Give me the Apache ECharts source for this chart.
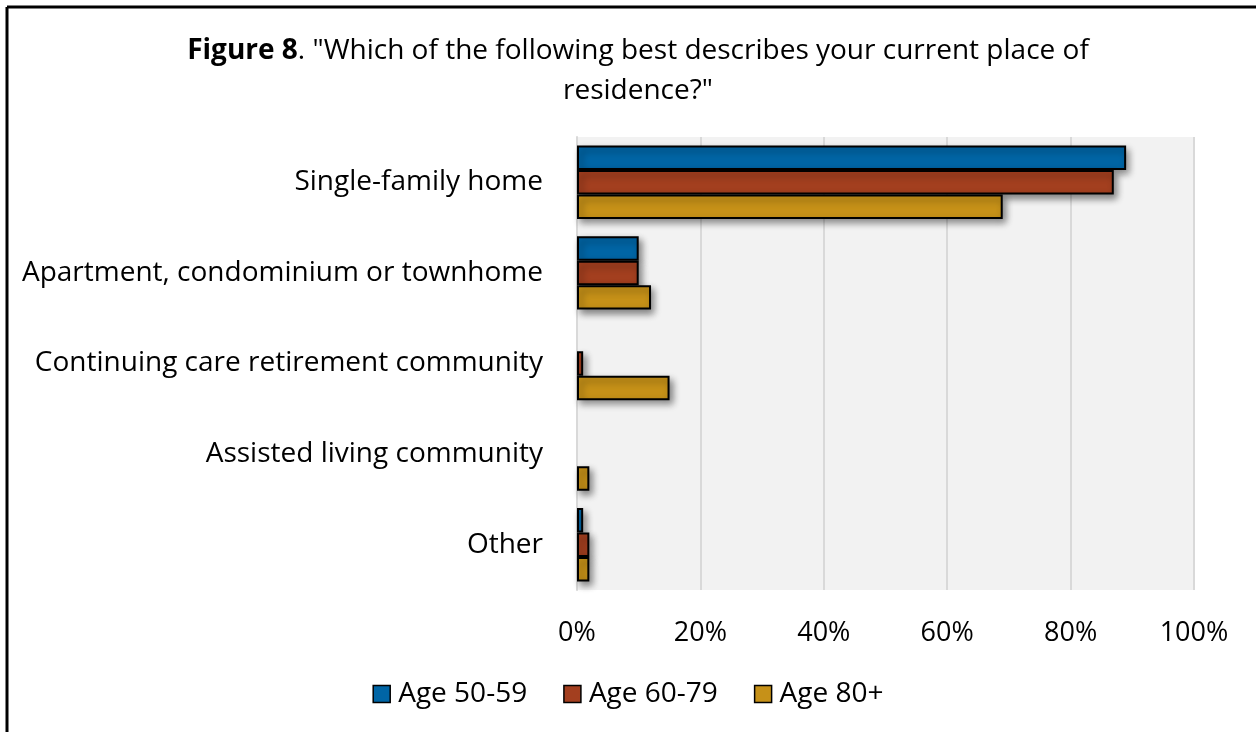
<!DOCTYPE html>
<html>
<head>
<meta charset="utf-8">
<script src="https://cdn.jsdelivr.net/npm/echarts@6/dist/echarts.min.js"></script>
<style>
  html, body { margin: 0; padding: 0; background: #ffffff; }
  #chart { width: 1256px; height: 732px; }
</style>
</head>
<body>
<div id="chart"></div>
<script>
// Place of residence by age group (percent of respondents)
const categories = [
  'Single-family home',
  'Apartment, condominium or townhome',
  'Continuing care retirement community',
  'Assisted living community',
  'Other'
];
const seriesNames = ['Age 50-59', 'Age 60-79', 'Age 80+'];
const age5059 = [89, 10, 0, 0, 1];
const age6079 = [87, 10, 1, 0, 2];
const age80plus = [69, 12, 15, 2, 2];
const xTicks = [0, 20, 40, 60, 80, 100];

const colors = ['#0065a5', '#a33f1f', '#c69118'];
const FONT = '"Open Sans", Lato, sans-serif';

// empty cells are left blank rather than drawn as zero-width bars
const toBars = arr => arr.map(v => (v === 0 ? '-' : v));

const chart = echarts.init(document.getElementById('chart'), null, { renderer: 'canvas' });

const seriesData = [age5059, age6079, age80plus];

chart.setOption({
  backgroundColor: '#ffffff',
  animation: false,
  textStyle: { fontFamily: FONT },
  title: {
    text: '{b|Figure 8}. "Which of the following best describes your current place of\nresidence?"',
    left: 633,
    textAlign: 'center',
    top: 26,
    textStyle: {
      fontFamily: FONT,
      fontSize: 28,
      fontWeight: 'normal',
      color: '#000',
      lineHeight: 40,
      rich: {
        b: { fontFamily: FONT, fontSize: 28, fontWeight: 'bold', color: '#000', lineHeight: 40 }
      }
    }
  },
  legend: {
    data: seriesNames,
    bottom: 19,
    left: 'center',
    itemWidth: 17,
    itemHeight: 17,
    itemGap: 36,
    icon: 'rect',
    textStyle: { fontFamily: FONT, fontSize: 28, color: '#000', padding: [0, 0, 0, 3] },
    itemStyle: { borderColor: '#000', borderWidth: 1.5 }
  },
  grid: { left: 577, right: 62, top: 137, bottom: 142, containLabel: false,
          show: true, backgroundColor: '#f2f2f2', borderWidth: 0 },
  xAxis: {
    type: 'value',
    min: xTicks[0],
    max: xTicks[xTicks.length - 1],
    interval: 20,
    axisLine: { show: false },
    axisTick: { show: false },
    splitLine: { show: true, lineStyle: { color: '#d9d9d9', width: 2 } },
    axisLabel: {
      formatter: v => v + '%',
      fontFamily: FONT, fontSize: 27, color: '#000', margin: 30
    }
  },
  yAxis: {
    type: 'category',
    data: categories,
    inverse: true,
    axisLine: { show: true, lineStyle: { color: '#d9d9d9', width: 2 } },
    axisTick: { show: false },
    axisLabel: { fontFamily: FONT, fontSize: 28, color: '#000', margin: 34, padding: [6, 0, 0, 0] }
  },
  series: seriesNames.map((name, i) => ({
    name,
    type: 'bar',
    data: toBars(seriesData[i]),
    barGap: '0%',
    barCategoryGap: '19%',
    itemStyle: {
      color: colors[i],
      borderColor: '#000',
      borderWidth: 2,
      shadowColor: 'rgba(0,0,0,0.45)',
      shadowBlur: 7,
      shadowOffsetX: 3,
      shadowOffsetY: 4
    }
  })),
  graphic: [
    { type: 'line', shape: { x1: 7, y1: 7, x2: 7, y2: 732 }, style: { stroke: '#000', lineWidth: 3 } },
    { type: 'line', shape: { x1: 7, y1: 7, x2: 1256, y2: 7 }, style: { stroke: '#000', lineWidth: 3 } }
  ]
});
</script>
</body>
</html>
